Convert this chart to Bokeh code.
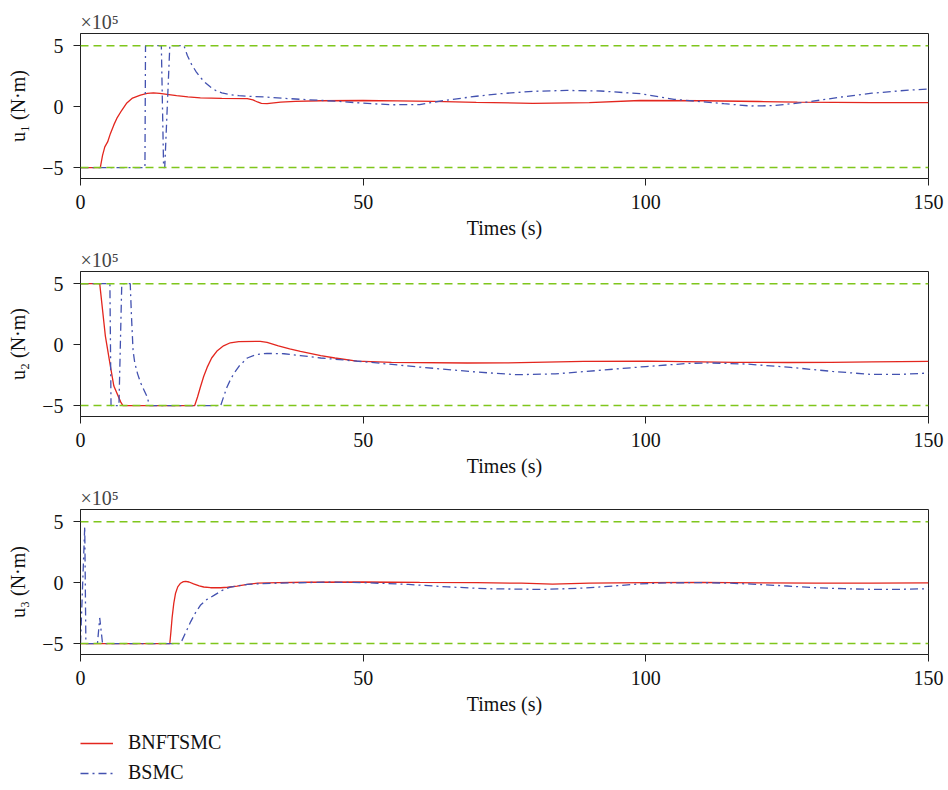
from bokeh.plotting import figure
from bokeh.models import Range1d, Span, Legend, LegendItem, FixedTicker
from bokeh.layouts import column
from bokeh.embed import file_html
from bokeh.resources import INLINE

# ---------------- data (values in units of 1e5 N·m) ----------------
x_ticks = [0, 50, 100, 150]
y_ticks = [-5, 0, 5]
y_tick_labels = {-5: "\u22125", 0: "0", 5: "5"}
limits = [5, -5]
series_names = ["BNFTSMC", "BSMC"]

# u1
t1_bnftsmc = [0, 3.5, 3.9, 4.3, 4.8, 5.3, 5.9, 6.5, 7.3, 8.2, 9.2, 10.6, 11.8, 12.9, 14, 15.3, 17,
              19, 21.2, 25, 29.5, 30.5, 31.3, 32, 33, 34.2, 35.4, 38, 42.5, 50, 56, 62.5, 70, 80,
              90, 99, 110, 120, 126.8, 140, 150]
u1_bnftsmc = [-5, -5, -4.0, -3.3, -2.9, -2.2, -1.5, -0.9, -0.3, 0.3, 0.7, 0.95, 1.08, 1.12, 1.08, 1.0, 0.9,
              0.8, 0.72, 0.67, 0.65, 0.55, 0.38, 0.26, 0.24, 0.3, 0.36, 0.43, 0.48, 0.5, 0.47, 0.43, 0.35, 0.27,
              0.32, 0.5, 0.48, 0.42, 0.36, 0.33, 0.32]
t1_bsmc = [0, 11.4, 11.5, 14.3, 14.7, 14.9, 15.8, 18.3, 18.9, 19.6, 20.4, 21.2, 22, 23, 24, 25, 26.5,
           28, 30, 33, 36, 38.9, 45, 50, 55, 60, 64.3, 70, 74.3, 80, 86, 92, 99, 105, 110, 113.8,
           118.5, 122.6, 128.5, 134.4, 140, 145, 150]
u1_bsmc = [-5, -5, 5, 5, -5, -5, 5, 5, 4.2, 3.5, 2.9, 2.4, 2.0, 1.6, 1.3, 1.12, 0.98,
           0.9, 0.84, 0.78, 0.68, 0.6, 0.45, 0.28, 0.15, 0.17, 0.5, 0.85, 1.06, 1.25, 1.33, 1.28, 1.06, 0.6,
           0.4, 0.24, 0.05, 0.08, 0.37, 0.78, 1.1, 1.3, 1.45]

# u2
t2_bnftsmc = [0, 3.4, 4.4, 5.3, 5.9, 7.1, 7.5, 20.2, 20.7, 21.2, 21.8, 22.4, 23.2, 24.2, 25.3, 26.5,
              28, 31.8, 33, 35, 37, 38.9, 42.5, 45, 48.9, 55, 68.4, 75, 89, 100.3, 103.8, 115.6,
              125, 132.8, 140, 150]
u2_bnftsmc = [5, 5, 0.7, -1.8, -3.4, -4.7, -5, -5, -4.3, -3.5, -2.6, -1.87, -1.1, -0.5, -0.1, 0.15,
              0.25, 0.27, 0.19, -0.1, -0.35, -0.55, -0.9, -1.1, -1.35, -1.45, -1.51, -1.5, -1.37, -1.35, -1.37, -1.45,
              -1.47, -1.45, -1.42, -1.38]
t2_bsmc = [0, 5.2, 5.4, 6.8, 7.3, 8.8, 9.0, 9.3, 9.6, 10.1, 10.6, 11.2, 11.8, 12.2, 24.8, 25.3, 25.9,
           26.5, 27.1, 28, 29.5, 31, 33, 36, 38.9, 42.5, 50, 60.6, 70, 77.2, 84, 89.5, 100, 107.6,
           111.2, 118, 125.6, 133, 140, 145, 150]
u2_bsmc = [5, 5, -5, -5, 5, 5, 2.5, -0.5, -1.5, -2.4, -3.1, -3.7, -4.3, -5, -5, -4.3, -3.5,
           -2.9, -2.4, -1.8, -1.1, -0.82, -0.72, -0.75, -0.9, -1.1, -1.4, -1.87, -2.25, -2.47, -2.4, -2.2, -1.8, -1.54,
           -1.5, -1.6, -1.87, -2.2, -2.45, -2.45, -2.33]

# u3
t3_bnftsmc = [0, 15.8, 16.0, 16.2, 16.5, 16.8, 17.2, 17.7, 18.2, 18.6, 19.2, 20, 21, 21.8, 23, 24.8,
              26, 27.7, 29.5, 31.3, 35, 40, 50, 60, 70, 78, 83.5, 90, 100, 110, 120, 130, 140, 150]
u3_bnftsmc = [-5, -5, -4.0, -2.9, -1.7, -0.9, -0.35, -0.05, 0.08, 0.1, 0.05, -0.1, -0.27, -0.36, -0.42, -0.42,
              -0.38, -0.29, -0.15, -0.05, 0.0, 0.03, 0.05, 0.02, 0, -0.05, -0.12, -0.05, 0, 0.02, -0.02, -0.05,
              -0.05, -0.03]
t3_bsmc = [0, 0.75, 0.95, 3.0, 3.4, 3.9, 17.7, 18.5, 19.5, 20.3, 21.2, 22.3, 23.6, 25, 26.5, 28, 29.5,
           32, 35.4, 44, 50, 58, 65, 71.7, 82, 89, 95, 99, 104, 109.6, 115, 120, 125, 130, 135, 140.6,
           145, 150]
u3_bsmc = [-5, 4.6, -5, -5, -2.9, -5, -5, -4.2, -3.2, -2.5, -1.86, -1.4, -1.05, -0.65, -0.37, -0.24, -0.15,
           -0.08, -0.04, 0.04, 0.0, -0.15, -0.35, -0.5, -0.56, -0.45, -0.25, -0.1, -0.02, 0.0, -0.05, -0.15,
           -0.28, -0.42, -0.5, -0.56, -0.55, -0.5]

panels = [
    ("u\u2081 (N\u00b7m)", t1_bnftsmc, u1_bnftsmc, t1_bsmc, u1_bsmc),
    ("u\u2082 (N\u00b7m)", t2_bnftsmc, u2_bnftsmc, t2_bsmc, u2_bsmc),
    ("u\u2083 (N\u00b7m)", t3_bnftsmc, u3_bnftsmc, t3_bsmc, u3_bsmc),
]

# ---------------- styling ----------------
FONT = "Liberation Serif"
FS = "20px"
RED = "#e3261e"
BLUE = "#4352b0"
GREEN = "#7fc61c"
DASHDOT = "8 4 2 4"


def make_fig(ylabel, top):
    p = figure(width=948, height=top + 145 + 63, x_range=Range1d(0, 150), y_range=Range1d(-5.9, 6.0),
               output_backend="svg", toolbar_location=None,
               min_border_left=80, min_border_right=20, min_border_top=top,
               min_border_bottom=63)
    p.title.text = "\u00d710\u2075"
    p.title.text_font = FONT
    p.title.text_font_size = FS
    p.title.text_font_style = "normal"
    p.title.align = "left"
    p.title.offset = 0
    p.title.standoff = 2
    p.grid.visible = False
    p.outline_line_color = "#222222"
    p.outline_line_width = 1
    p.background_fill_color = "white"
    p.border_fill_color = "white"
    for ax in (p.xaxis[0], p.yaxis[0]):
        ax.axis_line_color = "#222222"
        ax.major_tick_line_color = "#222222"
        ax.major_tick_out = 7
        ax.major_tick_in = 0
        ax.minor_tick_line_color = None
        ax.major_label_text_font = FONT
        ax.major_label_text_font_size = FS
        ax.major_label_text_color = "#111111"
        ax.axis_label_text_font = FONT
        ax.axis_label_text_font_size = FS
        ax.axis_label_text_font_style = "normal"
        ax.axis_label_text_color = "#111111"
    p.xaxis.ticker = FixedTicker(ticks=x_ticks)
    p.yaxis.ticker = FixedTicker(ticks=y_ticks)
    p.yaxis.major_label_overrides = y_tick_labels
    p.xaxis.axis_label = "Times (s)"
    p.yaxis.axis_label = ylabel
    p.xaxis.major_label_standoff = 9
    p.xaxis.axis_label_standoff = 5
    p.yaxis.major_label_standoff = 10
    p.yaxis.axis_label_standoff = 10
    return p


figs = []
for i, (ylabel, tr, ur, tb, ub) in enumerate(panels):
    p = make_fig(ylabel, 33 if i == 0 else 30)
    p.line(tr, ur, line_color=RED, line_width=1.3)
    p.line(tb, ub, line_color=BLUE, line_width=1.3, line_dash=DASHDOT)
    for lim in limits:
        p.add_layout(Span(location=lim, dimension="width", line_color=GREEN,
                          line_width=1.5, line_dash="8 5"))
    figs.append(p)

# legend panel (its lines use the u3 data but lie outside this panel's visible range)
used = sum(f.height for f in figs)
pl = figure(width=948, height=790 - used, x_range=Range1d(0, 150), y_range=Range1d(100, 101),
            output_backend="svg", toolbar_location=None,
            min_border_left=80, min_border_right=20, min_border_top=0, min_border_bottom=0)
pl.axis.visible = False
pl.grid.visible = False
pl.outline_line_color = None
pl.border_fill_color = "white"
lr = pl.line(t3_bnftsmc, u3_bnftsmc, line_color=RED, line_width=1.3)
lb = pl.line(t3_bsmc, u3_bsmc, line_color=BLUE, line_width=1.3, line_dash=DASHDOT)
legend = Legend(items=[LegendItem(label=series_names[0], renderers=[lr]),
                       LegendItem(label=series_names[1], renderers=[lb])],
                location=(0, 6), orientation="vertical")
legend.label_text_font = FONT
legend.label_text_font_size = FS
legend.label_text_color = "#111111"
legend.glyph_width = 33
legend.glyph_height = 20
legend.label_height = 20
legend.label_standoff = 15
legend.spacing = 7
legend.padding = 0
legend.margin = 0
legend.border_line_color = None
legend.background_fill_alpha = 0
pl.add_layout(legend)
figs.append(pl)

layout = column(*figs, spacing=0)
open("out.html", "w").write(file_html(layout, INLINE))
